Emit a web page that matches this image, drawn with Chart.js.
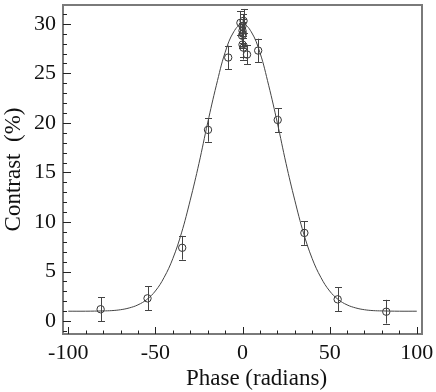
<!DOCTYPE html>
<html>
<head>
<meta charset="utf-8">
<script src="https://cdn.jsdelivr.net/npm/chart.js@4"></script>
<style>
  html, body { margin: 0; padding: 0; background: #fff; }
  #wrap { width: 436px; height: 392px; }
</style>
</head>
<body>
<div id="wrap"><canvas id="contrastChart" width="436" height="392"></canvas></div>
<script>
/* measured contrast vs phase */
const phaseData    = [-81.4, -54.5, -34.6, -19.8, -8.2, -1.2, 0.6, 0, 0, 0.2, -0.2, 0, 0.5, 2.6, 9.0, 20.2, 35.5, 54.6, 82.5];
const contrastData = [1.2, 2.3, 7.4, 19.3, 26.6, 30.1, 30.3, 29.8, 29.3, 29.0, 28.8, 27.9, 27.6, 26.9, 27.3, 20.3, 8.9, 2.2, 0.95];
const errorData    = [1.2, 1.2, 1.2, 1.2, 1.2, 1.2, 1.2, 1.2, 1.2, 1.2, 1.2, 1.2, 1.2, 1.0, 1.2, 1.2, 1.2, 1.2, 1.2];

/* fitted curve */
const curvePhase    = [-100, -90, -80, -75, -70, -65, -60, -55, -50, -45, -40, -35, -30, -25, -20, -15, -10, -5, 0, 5, 10, 15, 20, 25, 30, 35, 40, 45, 50, 55, 60, 65, 70, 75, 80, 90, 100];
const curveContrast = [1.0, 1.0, 1.03, 1.06, 1.15, 1.33, 1.64, 2.17, 3.04, 4.4, 6.3, 8.9, 12.2, 15.9, 20.0, 23.8, 27.1, 29.2, 30.0, 29.2, 27.1, 23.8, 20.0, 15.9, 12.2, 8.9, 6.3, 4.4, 3.04, 2.17, 1.64, 1.33, 1.15, 1.06, 1.03, 1.0, 1.0];

const xTitle = 'Phase (radians)';
const yTitle = 'Contrast  (%)';

const serif = "'Liberation Serif', 'Times New Roman', serif";

// error bars through the chart scales
const errorBars = {
  id: 'errorBars',
  afterDatasetsDraw(chart) {
    const ctx = chart.ctx, xs = chart.scales.x, ys = chart.scales.y;
    ctx.save();
    ctx.strokeStyle = '#444';
    ctx.lineWidth = 1;
    phaseData.forEach((p, i) => {
      const x = Math.round(xs.getPixelForValue(p)) + 0.5;
      const yLo = ys.getPixelForValue(contrastData[i] - errorData[i]);
      const yHi = ys.getPixelForValue(contrastData[i] + errorData[i]);
      ctx.beginPath();
      ctx.moveTo(x, yLo); ctx.lineTo(x, yHi);
      ctx.moveTo(x - 3.5, Math.round(yLo) + 0.5); ctx.lineTo(x + 3.5, Math.round(yLo) + 0.5);
      ctx.moveTo(x - 3.5, Math.round(yHi) + 0.5); ctx.lineTo(x + 3.5, Math.round(yHi) + 0.5);
      ctx.stroke();
    });
    ctx.restore();
  }
};

// frame, inward ticks and x title
const frame = {
  id: 'frame',
  afterDraw(chart) {
    const ctx = chart.ctx, a = chart.chartArea;
    const xs = chart.scales.x, ys = chart.scales.y;
    ctx.save();
    ctx.strokeStyle = '#7a7a7a';
    ctx.lineWidth = 2;
    ctx.strokeRect(a.left, a.top, a.right - a.left, a.bottom - a.top);
    ctx.strokeStyle = '#222';
    ctx.lineWidth = 1;
    ctx.beginPath();
    xs.ticks.forEach(t => {
      const x = Math.round(xs.getPixelForValue(t.value)) + 0.5;
      const len = t.value % 50 === 0 ? 7 : 3.5;
      ctx.moveTo(x, a.bottom); ctx.lineTo(x, a.bottom - len);
    });
    ys.ticks.forEach(t => {
      const y = Math.round(ys.getPixelForValue(t.value)) + 0.5;
      const len = t.value % 5 === 0 ? 8 : 4;
      ctx.moveTo(a.left, y); ctx.lineTo(a.left + len, y);
    });
    ctx.stroke();
    ctx.fillStyle = '#111';
    ctx.font = '23px ' + serif;
    ctx.textAlign = 'center';
    ctx.textBaseline = 'alphabetic';
    ctx.fillText(xTitle, (a.left + a.right) / 2 + 14, 385);
    ctx.restore();
  }
};

new Chart(document.getElementById('contrastChart'), {
  type: 'scatter',
  data: {
    datasets: [
      {
        label: 'fit',
        data: curvePhase.map((p, i) => ({ x: p, y: curveContrast[i] })),
        showLine: true,
        borderColor: '#444',
        borderWidth: 1,
        pointRadius: 0,
        tension: 0.4,
        fill: false
      },
      {
        label: 'data',
        data: phaseData.map((p, i) => ({ x: p, y: contrastData[i] })),
        pointStyle: 'circle',
        pointRadius: 3.7,
        borderColor: '#333',
        borderWidth: 1,
        backgroundColor: 'rgba(0,0,0,0)'
      }
    ]
  },
  options: {
    responsive: false,
    animation: false,
    events: [],
    layout: { padding: { top: 1, right: 14, left: 0, bottom: 0 } },
    plugins: {
      legend: { display: false },
      tooltip: { enabled: false }
    },
    scales: {
      x: {
        type: 'linear',
        min: -103,
        max: 103,
        afterFit(scale) {
          scale.height = 58;
          scale.paddingLeft = 0;
          scale.paddingRight = 0;
        },
        border: { display: false },
        grid: { display: false, drawTicks: false },
        ticks: {
          stepSize: 10,
          includeBounds: false,
          autoSkip: false,
          maxRotation: 0,
          padding: 6,
          color: '#111',
          font: { family: serif, size: 22 },
          callback: v => (v % 50 === 0 ? v : '')
        }
      },
      y: {
        min: -1.3,
        max: 31.9,
        afterFit(scale) {
          scale.width = 63;
          scale.paddingTop = 0;
          scale.paddingBottom = 0;
        },
        border: { display: false },
        grid: { display: false, drawTicks: false },
        title: {
          display: true,
          text: yTitle,
          color: '#111',
          padding: 0,
          font: { family: serif, size: 23 }
        },
        ticks: {
          stepSize: 1,
          includeBounds: false,
          autoSkip: false,
          padding: 7,
          color: '#111',
          font: { family: serif, size: 22 },
          callback: v => (v % 5 === 0 ? v : '')
        }
      }
    }
  },
  plugins: [errorBars, frame]
});
</script>
</body>
</html>
